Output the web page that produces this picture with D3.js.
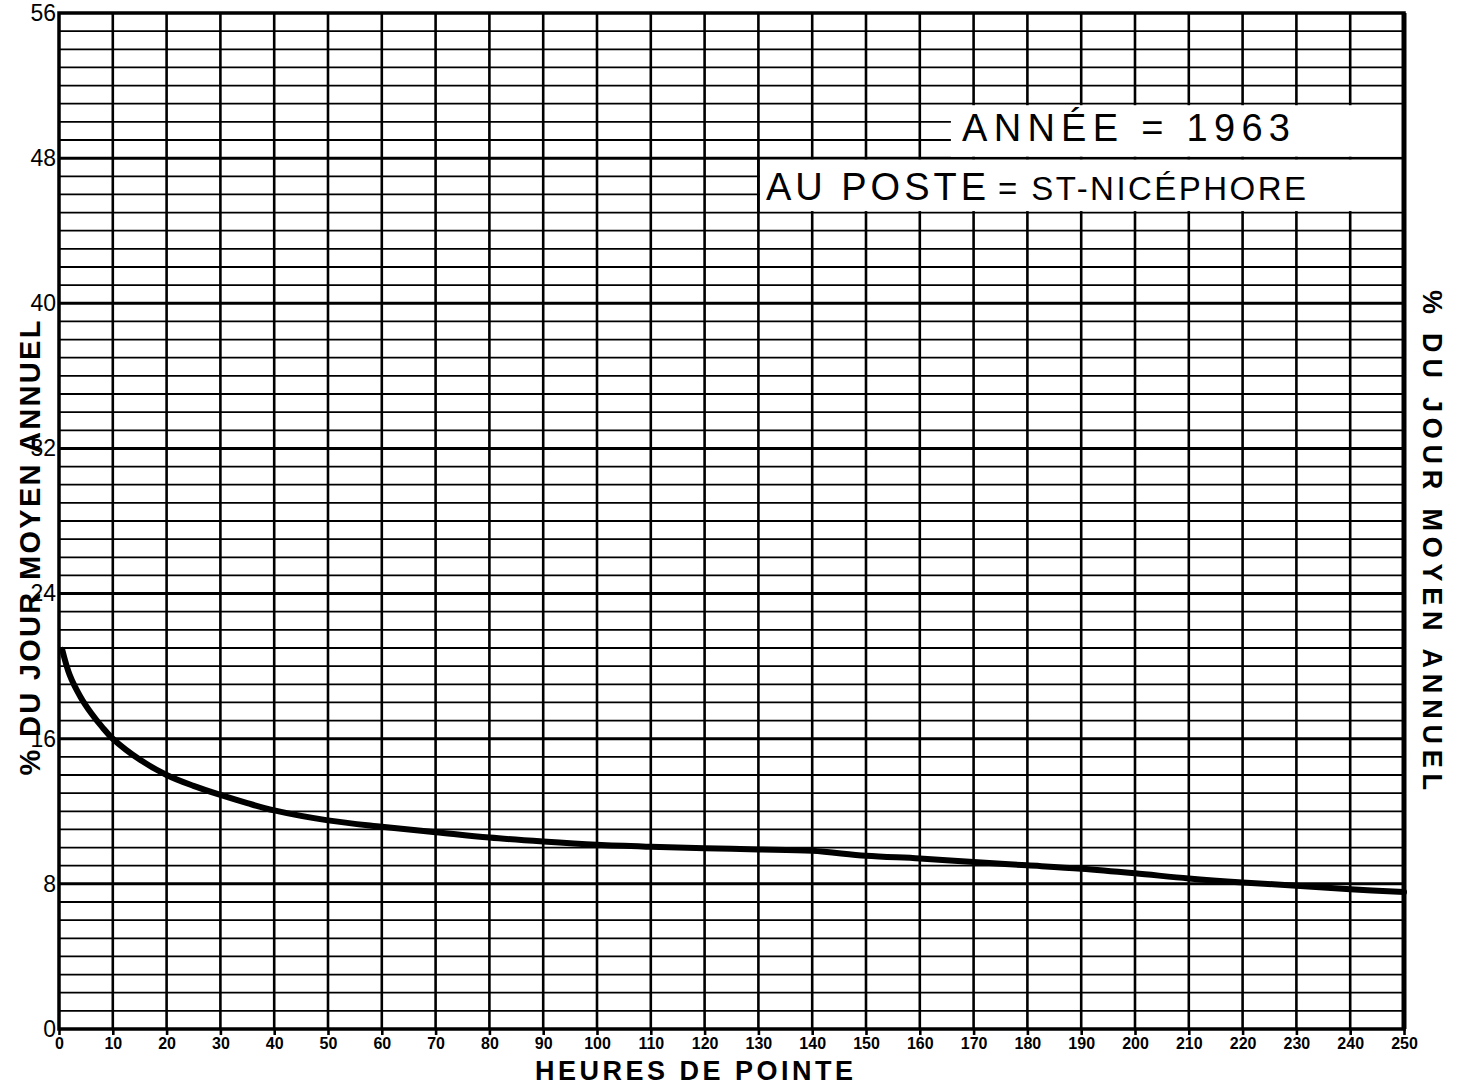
<!DOCTYPE html>
<html><head><meta charset="utf-8">
<script src="https://cdn.jsdelivr.net/npm/d3@7"></script>
<style>body{margin:0;background:#fff}svg{display:block}</style>
</head><body>
<svg id="c" width="1468" height="1085"></svg>
<script>
// ---- data ----
const hours = [0.6, 2, 4, 6, 8, 10, 15, 20, 25, 30, 35, 40, 50, 60, 70, 80, 90, 100, 110, 120, 130, 140, 150, 160, 170, 180, 190, 200, 210, 220, 230, 240, 250];
const pct   = [20.9, 19.5, 18.3, 17.4, 16.65, 16.0, 14.85, 14.0, 13.4, 12.9, 12.45, 12.05, 11.5, 11.15, 10.85, 10.55, 10.33, 10.15, 10.04, 9.96, 9.9, 9.82, 9.55, 9.4, 9.2, 9.02, 8.83, 8.58, 8.3, 8.08, 7.9, 7.7, 7.55];
const xTicks = d3.range(0, 251, 10);
const yTicks = [0, 8, 16, 24, 32, 40, 48, 56];
const yGridVals = d3.range(0, 57, 1);
const title1 = "ANNÉE = 1963";
const title2a = "AU POSTE";
const title2b = "= ST-NICÉPHORE";
const yTitle = "% DU JOUR MOYEN ANNUEL";
const xTitle = "HEURES DE POINTE";
// box extents in data units
const box1 = {x0: 165.5, x1: 250, y0: 48, y1: 51};
const box2 = {x0: 130, x1: 250, y0: 45, y1: 48};

const svg = d3.select("#c");
const x = d3.scaleLinear().domain([0, 250]).range([59, 1404]);
const y = d3.scaleLinear().domain([0, 56]).range([1029, 13]);
const F = "'Liberation Sans', Arial, sans-serif";

const g = svg.append("g");
// horizontal grid
g.selectAll("line.h").data(yGridVals.filter(v => v > 0 && v < 56)).join("line")
  .attr("x1", x(0)).attr("x2", x(250))
  .attr("y1", d => y(d)).attr("y2", d => y(d))
  .attr("stroke", "#000").attr("stroke-width", d => d % 8 === 0 ? 3 : 1.8);
// vertical grid
g.selectAll("line.v").data(xTicks.filter(v => v > 0 && v < 250)).join("line")
  .attr("y1", y(0)).attr("y2", y(56))
  .attr("x1", d => x(d)).attr("x2", d => x(d))
  .attr("stroke", "#000").attr("stroke-width", 2.6);

// white label boxes
[box1, box2].forEach(b => {
  g.append("rect")
    .attr("x", x(b.x0) + 1.5).attr("y", y(b.y1) + 1.5)
    .attr("width", x(b.x1) - x(b.x0) - 3).attr("height", y(b.y0) - y(b.y1) - 3)
    .attr("fill", "#fff");
});
g.append("line").attr("x1", x(box2.x0)).attr("x2", x(box2.x0))
  .attr("y1", y(box2.y1)).attr("y2", y(box2.y0)).attr("stroke", "#000").attr("stroke-width", 2.6);

// frame
g.append("rect").attr("x", x(0)).attr("y", y(56))
  .attr("width", x(250) - x(0)).attr("height", y(0) - y(56))
  .attr("fill", "none").attr("stroke", "#000").attr("stroke-width", 3.5);
g.append("line").attr("x1", x(250)).attr("x2", x(250)).attr("y1", y(56)).attr("y2", y(0))
  .attr("stroke", "#000").attr("stroke-width", 5);

// curve
const line = d3.line().x((d, i) => x(hours[i])).y(d => y(d)).curve(d3.curveCatmullRom.alpha(0.5));
svg.append("path").attr("d", line(pct)).attr("fill", "none")
  .attr("stroke", "#000").attr("stroke-width", 6).attr("stroke-linecap", "round");

// x axis labels
const xa = svg.append("g").attr("transform", `translate(0,${y(0)})`)
  .call(d3.axisBottom(x).tickValues(xTicks).tickSize(6).tickPadding(3).tickFormat(d3.format("d")));
xa.attr("font-size", null).attr("font-family", null);
xa.select(".domain").remove();
xa.selectAll("line").attr("stroke", "#000").attr("stroke-width", 2.6);
xa.selectAll("text").attr("font-family", F).attr("font-weight", "bold")
  .attr("font-size", 16).attr("fill", "#000");

// y axis labels
const ya = svg.append("g").attr("transform", `translate(${x(0)},0)`)
  .call(d3.axisLeft(y).tickValues(yTicks).tickSize(0).tickPadding(3).tickFormat(d3.format("d")));
ya.attr("font-size", null).attr("font-family", null);
ya.select(".domain").remove();
ya.selectAll("text").attr("font-family", F).attr("font-size", 23).attr("fill", "#000");

// titles in boxes
svg.append("text").attr("x", 962).attr("y", 141).text(title1)
  .attr("font-family", F).attr("font-size", 38).attr("textLength", 328).attr("fill", "#000");
svg.append("text").attr("x", 766).attr("y", 200).text(title2a)
  .attr("font-family", F).attr("font-size", 38).attr("textLength", 220).attr("fill", "#000");
svg.append("text").attr("x", 998).attr("y", 200).text(title2b)
  .attr("font-family", F).attr("font-size", 33).attr("textLength", 308).attr("fill", "#000");

// axis titles
svg.append("text").attr("transform", "translate(40,548) rotate(-90)")
  .attr("text-anchor", "middle").text(yTitle)
  .attr("font-family", F).attr("font-weight", "bold").attr("font-size", 29)
  .attr("textLength", 455).attr("fill", "#000");
svg.append("text").attr("transform", "translate(1423,540) rotate(90)")
  .attr("text-anchor", "middle").text(yTitle)
  .attr("font-family", F).attr("font-weight", "bold").attr("font-size", 27)
  .attr("textLength", 500).attr("fill", "#000");
svg.append("text").attr("x", 694).attr("y", 1080).attr("text-anchor", "middle").text(xTitle)
  .attr("font-family", F).attr("font-weight", "bold").attr("font-size", 27)
  .attr("textLength", 318).attr("fill", "#000");
</script>
</body></html>
